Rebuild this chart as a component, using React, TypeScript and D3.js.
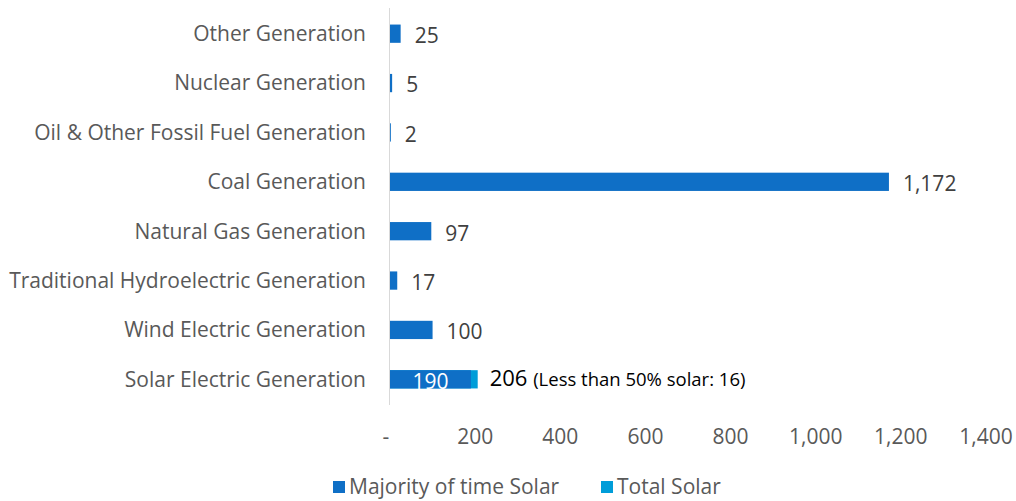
import * as d3 from 'd3';
import React, { useEffect, useRef } from 'react';

const categories = [
  'Other Generation',
  'Nuclear Generation',
  'Oil & Other Fossil Fuel Generation',
  'Coal Generation',
  'Natural Gas Generation',
  'Traditional Hydroelectric Generation',
  'Wind Electric Generation',
  'Solar Electric Generation',
];
const majoritySolar = [25, 5, 2, 1172, 97, 17, 100, 190];
const totalSolar = [0, 0, 0, 0, 0, 0, 0, 206];
const lessThanHalf = 16;
const xTicks = [0, 200, 400, 600, 800, 1000, 1200, 1400];
const seriesNames = ['Majority of time Solar', 'Total Solar'];

const W = 1016, H = 501;
const DARK = '#0F6FC6', LIGHT = '#009DD9';
const FONT = '"Open Sans", sans-serif';

const App = () => {
  const ref = useRef<SVGSVGElement>(null);

  useEffect(() => {
    const svg = d3.select(ref.current);
    svg.selectAll('*').remove();

    const x = d3.scaleLinear().domain([0, 1400]).range([390, 986]);
    const y = d3.scaleBand().domain(categories).range([9, 404]).paddingInner(0.63).paddingOuter(0.315);
    const fmt = d3.format(',');

    // axis line
    svg.append('line').attr('x1', 389.5).attr('x2', 389.5).attr('y1', 8).attr('y2', 405)
      .attr('stroke', '#d9d9d9').attr('stroke-width', 1);

    // category labels
    svg.append('g').selectAll('text').data(categories).join('text')
      .attr('x', 366).attr('y', d => y(d)! + y.bandwidth() / 2)
      .attr('dy', '0.35em').attr('text-anchor', 'end')
      .attr('font-family', FONT).attr('font-size', 21).attr('fill', '#595959')
      .text(d => d);

    // total solar (behind)
    svg.append('g').selectAll('rect').data(categories).join('rect')
      .attr('x', x(0)).attr('y', d => y(d)!)
      .attr('width', (d, i) => x(totalSolar[i]) - x(0)).attr('height', y.bandwidth())
      .attr('fill', LIGHT);

    // majority solar
    svg.append('g').selectAll('rect').data(categories).join('rect')
      .attr('x', x(0)).attr('y', d => y(d)!)
      .attr('width', (d, i) => x(majoritySolar[i]) - x(0)).attr('height', y.bandwidth())
      .attr('fill', DARK);

    // value labels
    const last = categories.length - 1;
    svg.append('g').selectAll('text').data(categories.slice(0, last)).join('text')
      .attr('x', (d, i) => x(majoritySolar[i]) + 14)
      .attr('y', d => y(d)! + y.bandwidth() / 2 + 2)
      .attr('dy', '0.35em')
      .attr('font-family', FONT).attr('font-size', 21).attr('fill', '#404040')
      .text((d, i) => fmt(majoritySolar[i]));

    const sy = y(categories[last])! + y.bandwidth() / 2 + 2;
    svg.append('text')
      .attr('x', (x(0) + x(majoritySolar[last])) / 2).attr('y', sy).attr('dy', '0.35em')
      .attr('text-anchor', 'middle').attr('font-family', FONT).attr('font-size', 21)
      .attr('fill', '#ffffff').text(fmt(majoritySolar[last]));

    const t = svg.append('text')
      .attr('x', x(totalSolar[last]) + 12).attr('y', sy - 1).attr('dy', '0.35em')
      .attr('font-family', FONT).attr('fill', '#000000');
    t.append('tspan').attr('font-size', 22).text(fmt(totalSolar[last]) + ' ');
    t.append('tspan').attr('font-size', 18.5).text(`(Less than 50% solar: ${lessThanHalf})`);

    // x tick labels
    svg.append('g').selectAll('text').data(xTicks).join('text')
      .attr('x', d => (d === 0 ? 386 : x(d))).attr('y', 437).attr('dy', '0.35em')
      .attr('text-anchor', 'middle')
      .attr('font-family', FONT).attr('font-size', 21).attr('fill', '#595959')
      .text(d => (d === 0 ? '-' : fmt(d)));

    // legend
    const lg = svg.append('g');
    const items = [
      { name: seriesNames[0], color: DARK, x: 333 },
      { name: seriesNames[1], color: LIGHT, x: 601 },
    ];
    items.forEach(it => {
      lg.append('rect').attr('x', it.x).attr('y', 481).attr('width', 12).attr('height', 12).attr('fill', it.color);
      lg.append('text').attr('x', it.x + 16).attr('y', 487).attr('dy', '0.35em')
        .attr('font-family', FONT).attr('font-size', 21).attr('fill', '#595959').text(it.name);
    });
  }, []);

  return (
    <svg ref={ref} width={W} height={H}
      style={{ position: 'absolute', left: 0, top: 0, background: '#ffffff' }} />
  );
};

export default App;
